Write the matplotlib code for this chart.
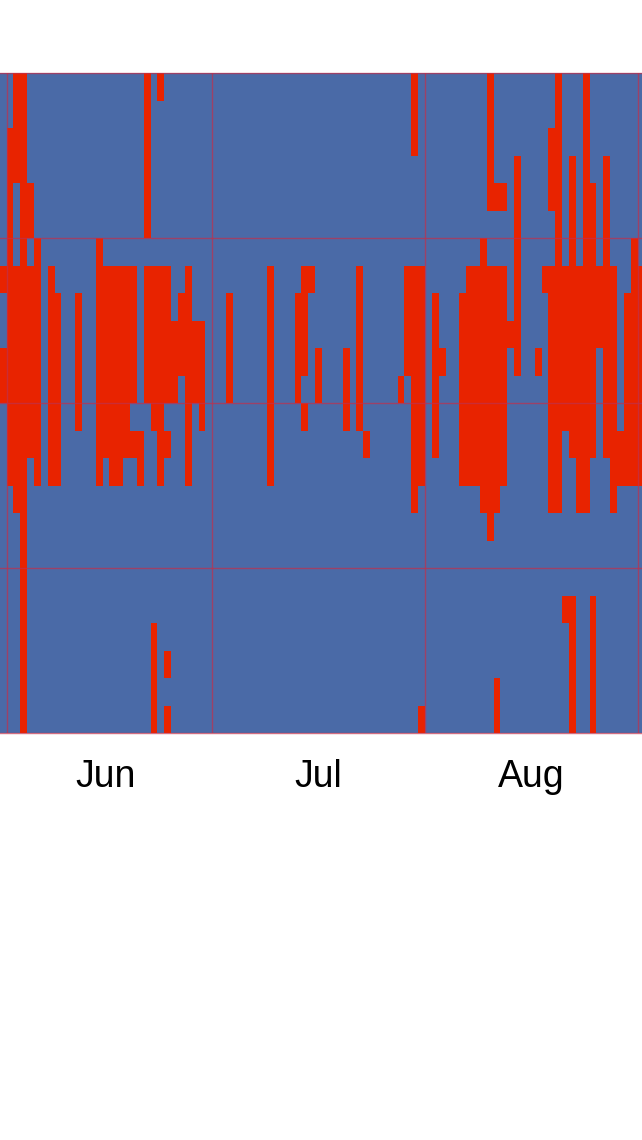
import numpy as np
import matplotlib.pyplot as plt
from matplotlib.colors import ListedColormap

# hours (0-23) flagged red for each day, May 31 .. Sep 1
red_hours = [
    "7,10-11",          # May 31
    "2-14", "0-3,7-15", "0-23", "4-5,7-13", "6-14", "", "7-14", "8-14", "", "",   # Jun 1-10
    "8-12", "", "", "6-14", "7-13", "7-14", "7-14", "7-13", "7-11,13", "13-14",   # Jun 11-20
    "0-5,7-11", "7-12,20-23", "0,7-14", "7-11,13,21,23", "9-11", "8-10", "7-14", "9-11", "9-12", "",  # Jun 21-30
    "", "", "8-11", "", "", "", "", "", "7-14", "",                               # Jul 1-10
    "", "", "8-11", "7-10,12", "7", "10-11", "", "", "", "10-12",                 # Jul 11-20
    "", "7-12", "13", "", "", "", "", "11", "7-10", "0-2,7-15", "7-14,23",        # Jul 21-31
    "", "8-13", "10", "", "", "8-14", "7-14", "7-14", "6-15", "0-4,7-16",         # Aug 1-10
    "4,7-15,22-23", "4,7-14", "9", "3-10", "", "", "10", "7", "2-4,7-15", "0-15", # Aug 11-20
    "7-12,19", "3-13,19-23", "7-15", "0-15", "4-13,19-23", "7-9", "3-13", "7-15", "13-14", "8-14", "6-14",  # Aug 21-31
    "7-14",             # Sep 1
]
month_labels = ["Jun", "Jul", "Aug"]
label_pos = [15.5, 46.5, 77.5]
month_first = [1, 31, 62, 93]  # column index of Jun 1, Jul 1, Aug 1, Sep 1

blue = "#4a6aa7"
red = "#e82300"
grid_col = "#c0304c"

n_days = len(red_hours)
grid = np.zeros((24, n_days))
for d, spec in enumerate(red_hours):
    for part in filter(None, spec.split(",")):
        a, _, b = part.partition("-")
        grid[int(a):int(b or a) + 1, d] = 1

fig = plt.figure(figsize=(6.42, 11.4), dpi=100)
ax = fig.add_axes([0, 1 - 733 / 1140, 1, 660 / 1140])
ax.pcolormesh(np.arange(n_days + 1), np.arange(25), grid,
              cmap=ListedColormap([blue, red]), vmin=0, vmax=1)

# pixel geometry of the original: column 0 starts slightly left of the frame
w = 6.86
x0 = -0.36
ax.set_xlim((0 - x0) / w, (642 - x0) / w)
ax.set_ylim(24, 0)

for h in [0, 6, 12, 18, 24]:
    ax.axhline(h, color=grid_col, lw=1, alpha=0.7, clip_on=False)
for m in month_first:
    ax.axvline(m, color=grid_col, lw=1, alpha=0.7)

for x, lab in zip(label_pos, month_labels):
    ax.text(x, -54 / 660, lab, transform=ax.get_xaxis_transform(),
            ha="center", va="baseline", fontsize=27, family="Liberation Sans")

ax.set_xticks([])
ax.set_yticks([])
for s in ax.spines.values():
    s.set_visible(False)

fig.savefig("out.png", dpi=100)
